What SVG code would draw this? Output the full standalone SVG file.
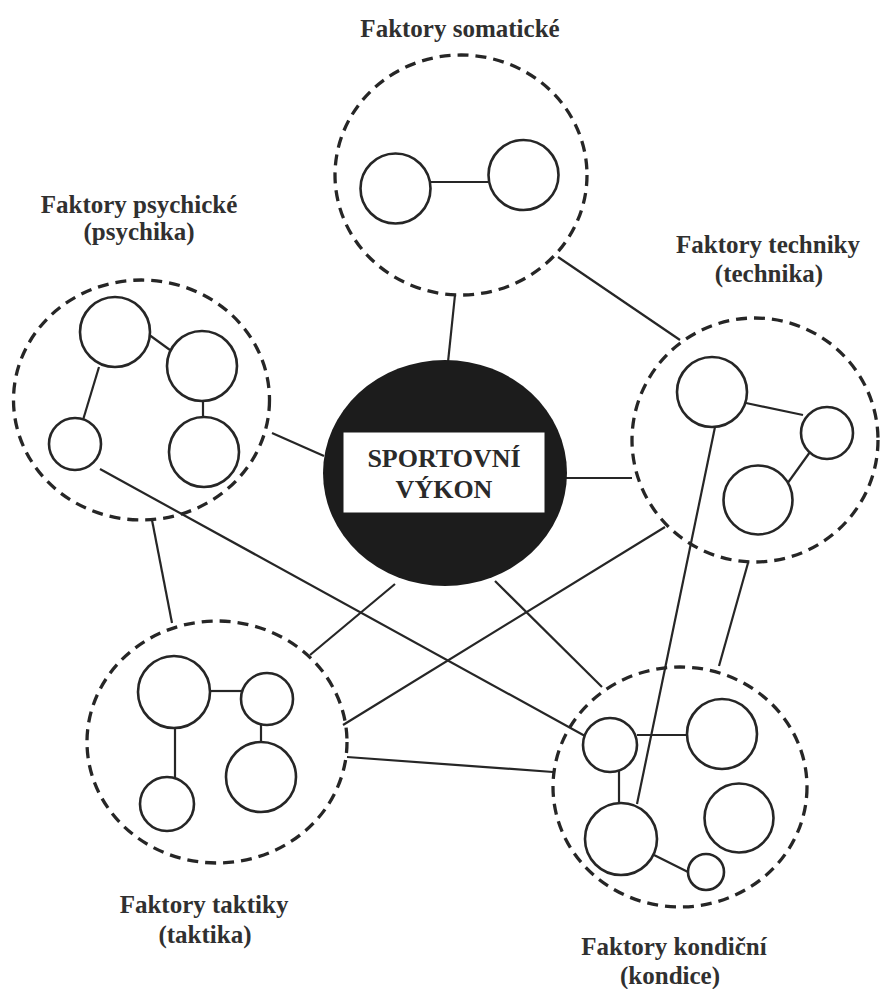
<svg xmlns="http://www.w3.org/2000/svg" width="882" height="989" viewBox="0 0 882 989">
<style>
.bg{fill:#ffffff}
.grp{fill:none;stroke:#262626;stroke-width:3.3;stroke-dasharray:11 7}
.c{fill:#ffffff;stroke:#262626;stroke-width:2.6}
.ln{stroke:#262626;stroke-width:2.2;fill:none}
.lbl{font-weight:bold;font-size:25px;fill:#303030;text-anchor:middle}
.core{font-weight:bold;font-size:26px;fill:#2a2a2a;text-anchor:middle}
</style>
<rect class="bg" x="0" y="0" width="882" height="989"/>
<g id="connectors">
<line class="ln" x1="455" y1="295" x2="448" y2="362"/>
<line class="ln" x1="558" y1="257" x2="680" y2="340"/>
<line class="ln" x1="272" y1="433" x2="324" y2="456"/>
<line class="ln" x1="100" y1="469" x2="585" y2="736"/>
<line class="ln" x1="152" y1="520" x2="172" y2="623"/>
<line class="ln" x1="565" y1="478" x2="632" y2="478"/>
<line class="ln" x1="395" y1="584" x2="310" y2="655"/>
<line class="ln" x1="495" y1="581" x2="602" y2="687"/>
<line class="ln" x1="665" y1="527" x2="343" y2="725"/>
<line class="ln" x1="715" y1="427" x2="637" y2="804"/>
<line class="ln" x1="748" y1="563" x2="719" y2="666"/>
<line class="ln" x1="347" y1="757" x2="553" y2="772"/>
</g>
<g id="somaticke">
<ellipse class="grp" cx="461" cy="175" rx="126" ry="120"/>
<line class="ln" x1="430" y1="182" x2="488" y2="182"/>
<circle class="c" cx="395.5" cy="188.5" r="35"/>
<circle class="c" cx="523.5" cy="175" r="35"/>
<text class="lbl" font-family="'Liberation Serif', 'DejaVu Serif', serif" x="460" y="37">Faktory somatické</text>
</g>
<g id="psychicke">
<ellipse class="grp" cx="141.5" cy="400" rx="128" ry="120"/>
<line class="ln" x1="148" y1="334" x2="170" y2="350"/>
<line class="ln" x1="99" y1="367" x2="83" y2="420"/>
<line class="ln" x1="203" y1="400" x2="203" y2="418"/>
<circle class="c" cx="115" cy="332" r="35"/>
<circle class="c" cx="202" cy="366" r="35"/>
<circle class="c" cx="204" cy="452" r="35"/>
<circle class="c" cx="75" cy="444" r="26"/>
<text class="lbl" font-family="'Liberation Serif', 'DejaVu Serif', serif" x="139" y="213">Faktory psychické</text>
<text class="lbl" font-family="'Liberation Serif', 'DejaVu Serif', serif" x="139" y="240">(psychika)</text>
</g>
<g id="techniky">
<ellipse class="grp" cx="755" cy="440" rx="123" ry="122"/>
<line class="ln" x1="746" y1="403" x2="803" y2="415"/>
<line class="ln" x1="810" y1="452" x2="787" y2="484"/>
<circle class="c" cx="712" cy="392" r="35"/>
<circle class="c" cx="827" cy="433" r="26"/>
<circle class="c" cx="758" cy="500" r="34.5"/>
<text class="lbl" font-family="'Liberation Serif', 'DejaVu Serif', serif" x="768" y="253">Faktory techniky</text>
<text class="lbl" font-family="'Liberation Serif', 'DejaVu Serif', serif" x="769" y="282">(technika)</text>
</g>
<g id="taktiky">
<ellipse class="grp" cx="217" cy="742" rx="130" ry="121"/>
<line class="ln" x1="210" y1="691" x2="242" y2="691"/>
<line class="ln" x1="175" y1="727" x2="175" y2="778"/>
<line class="ln" x1="261" y1="724" x2="261" y2="743"/>
<circle class="c" cx="174" cy="692" r="36"/>
<circle class="c" cx="267" cy="699" r="26"/>
<circle class="c" cx="261" cy="777" r="35"/>
<circle class="c" cx="167" cy="804" r="27"/>
<text class="lbl" font-family="'Liberation Serif', 'DejaVu Serif', serif" x="204" y="913">Faktory taktiky</text>
<text class="lbl" font-family="'Liberation Serif', 'DejaVu Serif', serif" x="205" y="943">(taktika)</text>
</g>
<g id="kondicni">
<ellipse class="grp" cx="680" cy="787" rx="127" ry="120"/>
<line class="ln" x1="637" y1="735" x2="687" y2="735"/>
<line class="ln" x1="619" y1="771" x2="619" y2="804"/>
<line class="ln" x1="654" y1="855" x2="690" y2="873"/>
<circle class="c" cx="610" cy="745" r="27"/>
<circle class="c" cx="722" cy="734" r="35"/>
<circle class="c" cx="739" cy="818" r="34.5"/>
<circle class="c" cx="621" cy="839" r="36"/>
<circle class="c" cx="706" cy="872" r="18"/>
<text class="lbl" font-family="'Liberation Serif', 'DejaVu Serif', serif" x="674" y="955">Faktory kondiční</text>
<text class="lbl" font-family="'Liberation Serif', 'DejaVu Serif', serif" x="670" y="984">(kondice)</text>
</g>
<g id="sportovni-vykon">
<ellipse cx="445" cy="473" rx="122" ry="113" fill="#1c1c1c"/>
<rect x="343" y="432" width="202" height="81" fill="#ffffff" stroke="#1c1c1c" stroke-width="1"/>
<text class="core" font-family="'Liberation Serif', 'DejaVu Serif', serif" x="444" y="467">SPORTOVNÍ</text>
<text class="core" font-family="'Liberation Serif', 'DejaVu Serif', serif" x="444" y="498">VÝKON</text>
</g>
</svg>
